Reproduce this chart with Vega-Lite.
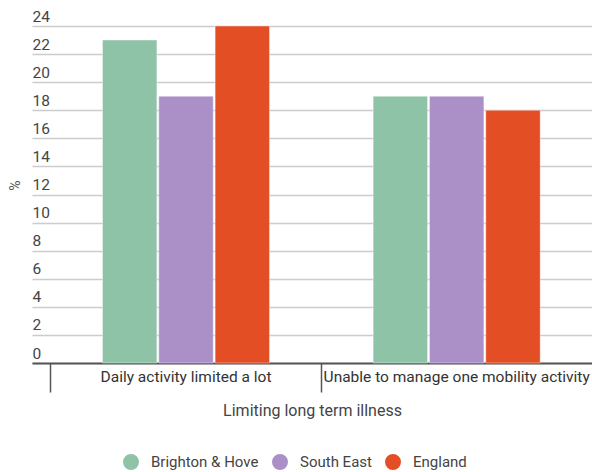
{
  "$schema": "https://vega.github.io/schema/vega-lite/v6.json",
  "autosize": {"type": "none"},
  "width": 560,
  "height": 337,
  "padding": {"left": 32, "top": 26, "right": 0, "bottom": 109},
  "background": "white",
  "config": {
    "font": "Roboto",
    "view": {"stroke": null}
  },
  "data": {
    "values": [
      {"illness": "Daily activity limited a lot", "area": "Brighton & Hove", "pct": 23},
      {"illness": "Daily activity limited a lot", "area": "South East", "pct": 19},
      {"illness": "Daily activity limited a lot", "area": "England", "pct": 24},
      {"illness": "Unable to manage one mobility activity", "area": "Brighton & Hove", "pct": 19},
      {"illness": "Unable to manage one mobility activity", "area": "South East", "pct": 19},
      {"illness": "Unable to manage one mobility activity", "area": "England", "pct": 18}
    ]
  },
  "mark": {"type": "bar", "stroke": "white", "strokeWidth": 1, "strokeOpacity": 0.4},
  "encoding": {
    "x": {
      "field": "illness",
      "type": "nominal",
      "sort": null,
      "scale": {"paddingInner": 0, "paddingOuter": 0.0345, "align": 1},
      "axis": {
        "title": "Limiting long term illness",
        "titleFont": "Roboto",
        "titleFontSize": 16,
        "titleFontWeight": "normal",
        "titleColor": "#444444",
        "titleY": 47,
        "titleBaseline": "middle",
        "labelAngle": 0,
        "labelFont": "Roboto",
        "labelFontSize": 15.5,
        "labelColor": "#333333",
        "labelBaseline": "top",
        "labelAlign": "center",
        "labelLimit": 0,
        "labelOverlap": false,
        "bandPosition": 0,
        "labelPadding": -23,
        "tickSize": 29,
        "tickColor": "#555555",
        "tickWidth": 1.5,
        "domainColor": "#555555",
        "domainWidth": 2,
        "grid": false
      }
    },
    "xOffset": {
      "field": "area",
      "type": "nominal",
      "sort": ["Brighton & Hove", "South East", "England"],
      "scale": {"paddingInner": 0.034, "paddingOuter": 0.92}
    },
    "y": {
      "field": "pct",
      "type": "quantitative",
      "scale": {"domain": [0, 24], "nice": false},
      "axis": {
        "title": "%",
        "titleFont": "Roboto",
        "titleFontSize": 14,
        "titleFontWeight": "normal",
        "titleColor": "#555555",
        "titleX": -17,
        "titleY": 159,
        "titleAlign": "center",
        "titleBaseline": "middle",
        "values": [0, 2, 4, 6, 8, 10, 12, 14, 16, 18, 20, 22, 24],
        "labelFont": "Roboto",
        "labelFontSize": 15.5,
        "labelColor": "#444444",
        "labelAlign": "left",
        "labelBaseline": "alphabetic",
        "labelOffset": -5,
        "labelPadding": 0,
        "ticks": false,
        "tickSize": 0,
        "domain": false,
        "grid": true,
        "gridColor": "#cccccc",
        "gridWidth": 1.5
      }
    },
    "color": {
      "field": "area",
      "type": "nominal",
      "sort": ["Brighton & Hove", "South East", "England"],
      "scale": {
        "domain": ["Brighton & Hove", "South East", "England"],
        "range": ["#8ec3a7", "#ab8fc7", "#e34e24"]
      },
      "legend": {
        "title": null,
        "orient": "none",
        "direction": "horizontal",
        "legendX": 91,
        "legendY": 428,
        "padding": 0,
        "symbolType": "circle",
        "symbolSize": 254,
        "symbolStrokeWidth": 0,
        "symbolOpacity": 1,
        "labelFont": "Roboto",
        "labelFontSize": 15,
        "labelColor": "#444444",
        "labelOffset": 12,
        "columnPadding": 13
      }
    }
  }
}
